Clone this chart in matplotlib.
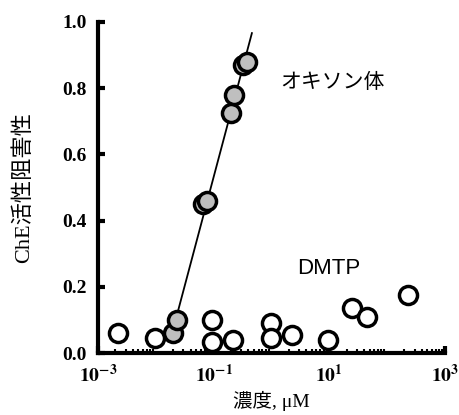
import numpy as np
import matplotlib
matplotlib.use("Agg")
import matplotlib.pyplot as plt
from matplotlib.ticker import LogLocator, NullFormatter, FixedLocator

# -----------------------------
# Data
# -----------------------------
oxon_conc = [0.020, 0.023, 0.066, 0.078, 0.20, 0.225, 0.32, 0.38]
oxon_inhib = [0.06, 0.10, 0.45, 0.46, 0.725, 0.78, 0.87, 0.88]

dmtp_conc = [0.0022, 0.0098, 0.093, 0.093, 0.22, 1.0, 1.0, 2.3, 9.5, 24.5, 45, 230]
dmtp_inhib = [0.06, 0.045, 0.10, 0.035, 0.04, 0.09, 0.045, 0.055, 0.04, 0.135, 0.11, 0.175]

fit_range = [0.0185, 0.46]

x_ticks = [1e-3, 1e-1, 1e1, 1e3]
x_tick_labels = [r"$\mathbf{10^{-3}}$", r"$\mathbf{10^{-1}}$",
                 r"$\mathbf{10^{1}}$", r"$\mathbf{10^{3}}$"]
y_ticks = [0.0, 0.2, 0.4, 0.6, 0.8, 1.0]

# -----------------------------
# Fonts
# -----------------------------
plt.rcParams["font.family"] = ["Liberation Serif", "Noto Sans CJK JP"]
plt.rcParams["mathtext.fontset"] = "stix"

fig = plt.figure(figsize=(4.6, 4.15), dpi=100)
ax = fig.add_axes([0.213, 0.149, 0.754, 0.798])

# -----------------------------
# Regression line for oxon
# -----------------------------
slope, intercept = np.polyfit(np.log10(oxon_conc), oxon_inhib, 1)
fit_x = np.logspace(np.log10(fit_range[0]), np.log10(fit_range[1]), 50)
ax.plot(fit_x, slope * np.log10(fit_x) + intercept, color="black", lw=1.3, zorder=2)

# -----------------------------
# Points
# -----------------------------
ax.plot(dmtp_conc, dmtp_inhib, "o", ms=13, mfc="white", mec="black",
        mew=2.5, zorder=3, clip_on=False)
ax.plot(oxon_conc, oxon_inhib, "o", ms=13, mfc="#bfbfbf", mec="black",
        mew=2.5, zorder=4, clip_on=False)

# -----------------------------
# Axes style
# -----------------------------
ax.set_xscale("log")
ax.set_xlim(1e-3, 1e3)
ax.set_ylim(0, 1.0)

for side in ["top", "right"]:
    ax.spines[side].set_visible(False)
for side in ["left", "bottom"]:
    ax.spines[side].set_linewidth(3)

ax.xaxis.set_major_locator(FixedLocator(x_ticks))
ax.set_xticklabels(x_tick_labels)
ax.xaxis.set_minor_locator(LogLocator(base=10, subs=np.arange(2, 10), numticks=20))
ax.xaxis.set_minor_formatter(NullFormatter())
ax.set_yticks(y_ticks)
ax.set_yticklabels([f"{v:.1f}" for v in y_ticks])

ax.tick_params(axis="both", which="major", direction="in", length=5, width=3,
               labelsize=14, pad=8)
ax.tick_params(axis="x", which="minor", direction="in", length=3, width=1.5)
for lab in ax.get_yticklabels():
    lab.set_fontweight("bold")

# -----------------------------
# Labels and annotations
# -----------------------------
ax.set_ylabel("ChE活性阻害性", fontsize=16, labelpad=20)
ax.set_xlabel("濃度, μM", fontsize=14, labelpad=3)

ax.text(1.4, 0.82, "オキソン体", fontsize=15, va="center",
        family=["Noto Sans CJK JP", "DejaVu Sans"])
ax.text(2.77, 0.257, "DMTP", fontsize=16, va="center", family="Liberation Sans")

fig.savefig("out.png", dpi=100)
